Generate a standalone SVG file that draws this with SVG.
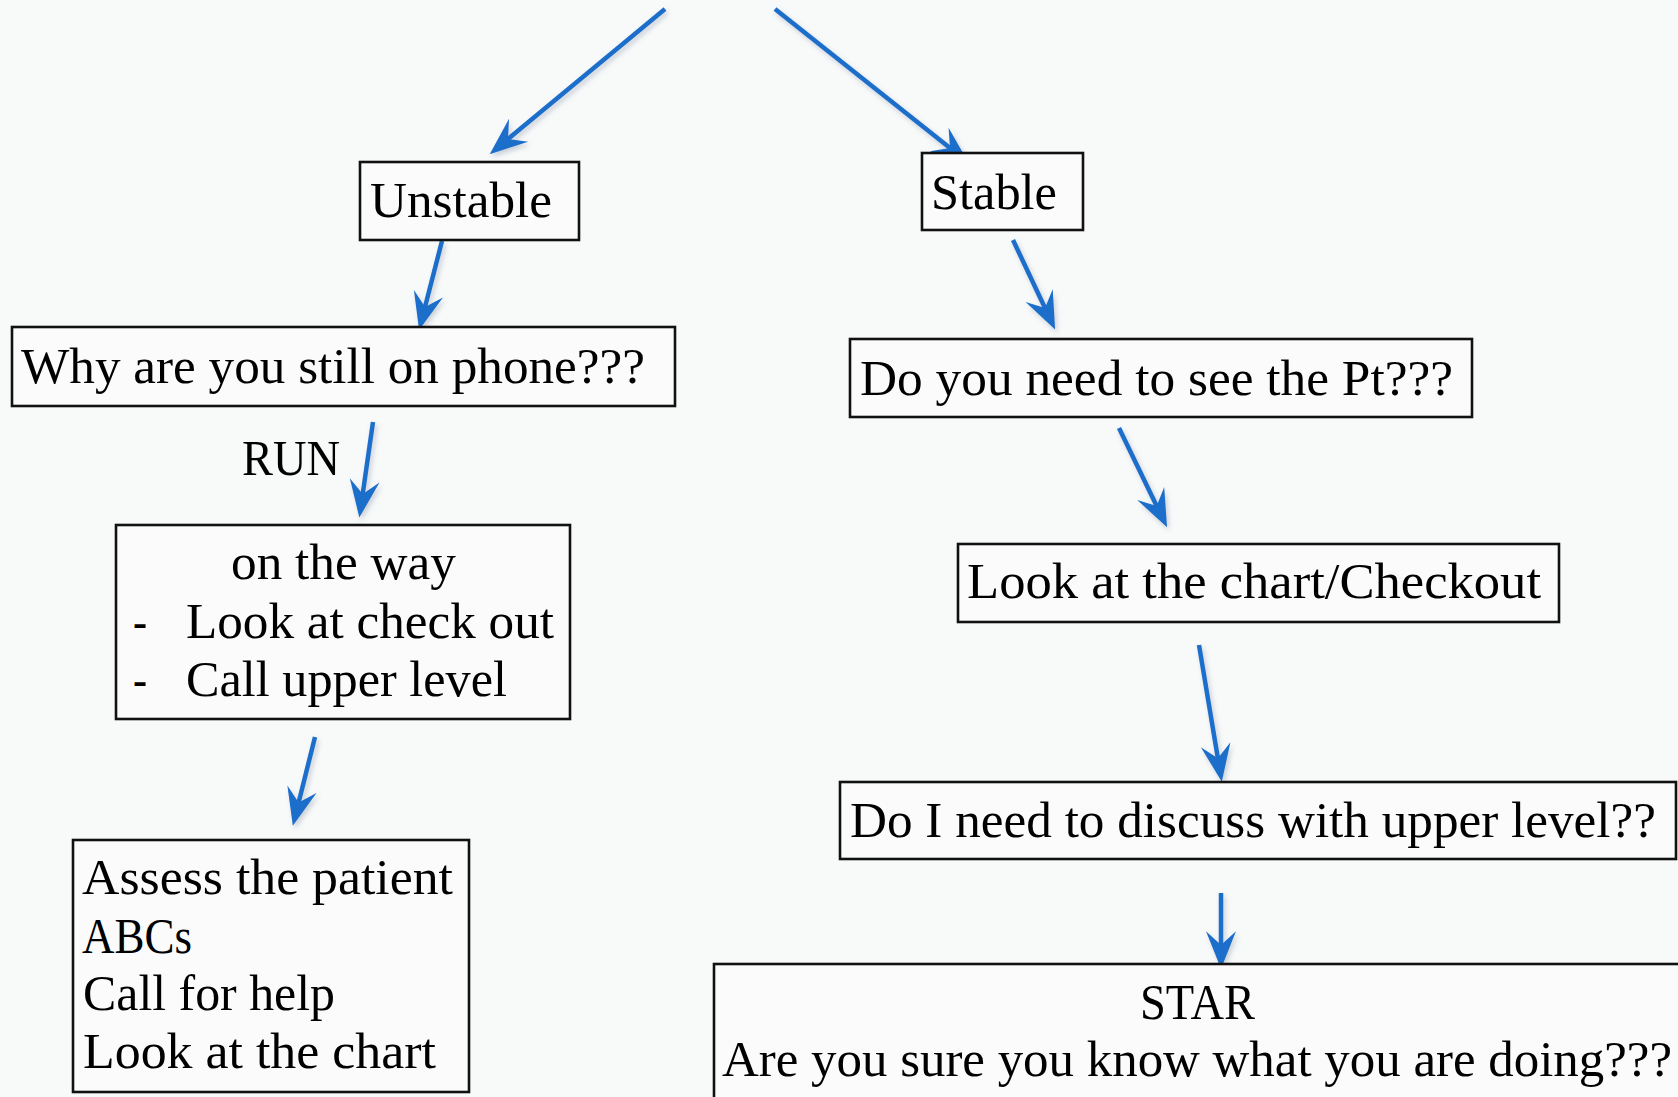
<svg xmlns="http://www.w3.org/2000/svg" width="1678" height="1097" viewBox="0 0 1678 1097">
<style>
.box{fill:#fbfbfb;stroke:#111;stroke-width:2.6}
.t{font-family:"Liberation Serif","DejaVu Serif",serif;font-size:50px;fill:#000}
.c{stroke:#1a6ecb;stroke-width:4.5;fill:none;marker-end:url(#ah)}
</style>
<defs>
<marker id="ah" markerUnits="userSpaceOnUse" markerWidth="50" markerHeight="40" viewBox="-15 -15 40 30" refX="0" refY="0" orient="auto" overflow="visible">
<path d="M19,0 L-11,-12 L0,0 L-11,12 Z" fill="#1a6ecb"/>
</marker>
<filter id="sh" filterUnits="userSpaceOnUse" x="0" y="0" width="1678" height="1097">
<feDropShadow dx="2" dy="3" stdDeviation="2.5" flood-color="#6a7f95" flood-opacity="0.35"/>
</filter>
</defs>
<rect width="1678" height="1097" fill="#f8f9f9"/>
<g id="connectors" filter="url(#sh)">
<line class="c" x1="665" y1="9" x2="508" y2="139"/>
<line class="c" x1="775" y1="9" x2="950" y2="148"/>
<line class="c" x1="442" y1="241" x2="425" y2="307"/>
<line class="c" x1="1013" y1="240" x2="1045" y2="308"/>
<line class="c" x1="373" y1="422" x2="362.7" y2="494"/>
<line class="c" x1="315" y1="737" x2="298.6" y2="802.6"/>
<line class="c" x1="1119" y1="428" x2="1156.7" y2="505.9"/>
<line class="c" x1="1199" y1="645" x2="1217.9" y2="758.3"/>
<line class="c" x1="1221" y1="893" x2="1221" y2="945"/>
</g>
<g id="unstable">
<rect class="box" x="360" y="162" width="219" height="78"/>
<text class="t" x="370" y="217" textLength="182" lengthAdjust="spacingAndGlyphs">Unstable</text>
</g>
<g id="stable">
<rect class="box" x="922" y="153" width="161" height="77"/>
<text class="t" x="931" y="209" textLength="126" lengthAdjust="spacingAndGlyphs">Stable</text>
</g>
<g id="why">
<rect class="box" x="12" y="327" width="663" height="79"/>
<text class="t" x="21" y="383" textLength="624" lengthAdjust="spacingAndGlyphs">Why are you still on phone???</text>
</g>
<g id="run-label">
<text class="t" x="242" y="475" textLength="98" lengthAdjust="spacingAndGlyphs">RUN</text>
</g>
<g id="ontheway">
<rect class="box" x="116" y="525" width="454" height="194"/>
<text class="t" x="231" y="579" textLength="225" lengthAdjust="spacingAndGlyphs">on the way</text>
<text class="t" x="133" y="638" textLength="14" lengthAdjust="spacingAndGlyphs">-</text>
<text class="t" x="186" y="638" textLength="368" lengthAdjust="spacingAndGlyphs">Look at check out</text>
<text class="t" x="133" y="696" textLength="14" lengthAdjust="spacingAndGlyphs">-</text>
<text class="t" x="186" y="696" textLength="321" lengthAdjust="spacingAndGlyphs">Call upper level</text>
</g>
<g id="assess">
<rect class="box" x="73" y="840" width="396" height="252"/>
<text class="t" x="82" y="894" textLength="371" lengthAdjust="spacingAndGlyphs">Assess the patient</text>
<text class="t" x="82" y="953" textLength="110" lengthAdjust="spacingAndGlyphs">ABCs</text>
<text class="t" x="83" y="1010" textLength="252" lengthAdjust="spacingAndGlyphs">Call for help</text>
<text class="t" x="83" y="1068" textLength="353" lengthAdjust="spacingAndGlyphs">Look at the chart</text>
</g>
<g id="needsee">
<rect class="box" x="850" y="339" width="622" height="78"/>
<text class="t" x="860" y="395" textLength="593" lengthAdjust="spacingAndGlyphs">Do you need to see the Pt???</text>
</g>
<g id="chart">
<rect class="box" x="958" y="544" width="601" height="78"/>
<text class="t" x="967" y="598" textLength="574" lengthAdjust="spacingAndGlyphs">Look at the chart/Checkout</text>
</g>
<g id="discuss">
<rect class="box" x="840" y="782" width="836" height="77"/>
<text class="t" x="850" y="837" textLength="806" lengthAdjust="spacingAndGlyphs">Do I need to discuss with upper level??</text>
</g>
<g id="star">
<rect class="box" x="714" y="964" width="1000" height="200"/>
<text class="t" x="1140" y="1019" textLength="115" lengthAdjust="spacingAndGlyphs">STAR</text>
<text class="t" x="722" y="1076" textLength="950" lengthAdjust="spacingAndGlyphs">Are you sure you know what you are doing???</text>
</g>
</svg>
